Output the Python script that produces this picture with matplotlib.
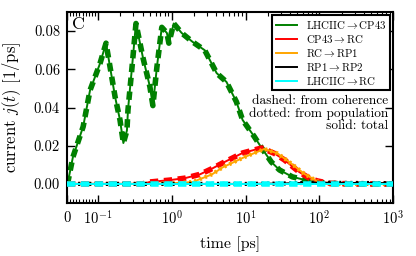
import matplotlib
matplotlib.use("Agg")
import matplotlib.pyplot as plt
import numpy as np
from matplotlib.ticker import FixedLocator

plt.rcParams['font.family'] = 'serif'
plt.rcParams['font.serif'] = ['cmr10']
plt.rcParams['mathtext.fontset'] = 'cm'
plt.rcParams['axes.formatter.use_mathtext'] = True
plt.rcParams['lines.scale_dashes'] = False

# LHCIIC -> CP43 (coherent part, population part ~0)
t_green = [0, 0.003, 0.019, 0.052, 0.074, 0.106, 0.128, 0.17, 0.198, 0.22, 0.246, 0.254,
           0.288, 0.326, 0.406, 0.503, 0.553, 0.626, 0.73, 0.857, 0.91, 1.06, 1.36, 1.92,
           2.79, 4.05, 5.5, 7.5, 9.1, 13.2, 16.5, 22.3, 28.8, 43, 73, 136, 300, 1000]
j_green = [0, 0.001, 0.014, 0.030, 0.049, 0.063, 0.0737, 0.0455, 0.0335, 0.0214, 0.028, 0.0387,
           0.061, 0.084, 0.066, 0.051, 0.041, 0.061, 0.082, 0.079, 0.0737, 0.084, 0.079, 0.0743,
           0.070, 0.058, 0.0534, 0.043, 0.0335, 0.0246, 0.0188, 0.0115, 0.0073, 0.0037, 0.0015, 0.0002, 0, 0]

# CP43 -> RC
t_red = [0, 0.4, 0.5, 0.94, 1.5, 2.4, 3.5, 4.9, 9.1, 16.5, 24.5, 33.5, 53, 73, 93, 136, 300, 1000]
j_red = [0, 0, 0.001, 0.002, 0.003, 0.005, 0.008, 0.011, 0.0162, 0.0188, 0.016, 0.0126, 0.0063,
         0.003, 0.0016, 0.0003, 0, 0]

# RC -> RP1
t_orange = [0, 0.5, 1.0, 1.92, 2.4, 3.5, 4.9, 9.6, 18, 27, 39, 63, 100, 160, 1000]
j_orange = [0, 0, 0.0003, 0.001, 0.0025, 0.005, 0.0087, 0.014, 0.0183, 0.016, 0.0115, 0.0052,
            0.0008, 0, 0]

# RP1 -> RP2
t_black = [0, 10, 30, 60, 100, 300, 1000]
j_black = [0, 0, 0.0002, 0.0005, 0.0006, 0.0005, 0.0004]

# LHCIIC -> RC
t_cyan = [0, 1000]
j_cyan = [0, 0]

labels = ['LHCIIC$\\rightarrow$CP43', 'CP43$\\rightarrow$RC', 'RC$\\rightarrow$RP1',
          'RP1$\\rightarrow$RP2', 'LHCIIC$\\rightarrow$RC']

fig = plt.figure(figsize=(4.16, 2.56), dpi=100)
ax = fig.add_axes([0.161, 0.207, 0.784, 0.746])

series = [(t_green, j_green, 'green', 'coh'),
          (t_red, j_red, 'red', 'coh'),
          (t_orange, j_orange, 'orange', 'pop'),
          (t_black, j_black, 'black', 'pop'),
          (t_cyan, j_cyan, 'cyan', 'coh')]

handles = []
for k, (t, j, c, part) in enumerate(series):
    h, = ax.plot(t, j, '-', color=c, lw=1.4, zorder=2 + k)
    handles.append(h)
    if part == 'coh':
        ax.plot(t, j, color=c, lw=4, dashes=(6, 4), zorder=2 + k)
    else:
        ax.plot(t, j, color=c, lw=3, dashes=(1.5, 2.5), zorder=2 + k)

ax.set_xscale('symlog', linthresh=0.1, linscale=0.38)
ax.set_xlim(0, 1000)
ax.set_ylim(-0.01, 0.09)
ax.set_yticks([0, 0.02, 0.04, 0.06, 0.08])
ax.set_yticklabels(['0.00', '0.02', '0.04', '0.06', '0.08'])
minor = [0.01 * i for i in range(1, 10)]
for d in [0.1, 1, 10, 100]:
    minor += [d * i for i in range(2, 10)]
ax.xaxis.set_minor_locator(FixedLocator(minor))

for s in ax.spines.values():
    s.set_linewidth(1.5)
ax.tick_params(which='both', direction='in', top=True, right=True, labelsize=10.5)
ax.tick_params(which='major', length=6, width=1, pad=5)
ax.tick_params(which='minor', length=3, width=0.8)

ax.set_xlabel('time [ps]', fontsize=11.5, labelpad=6)
ax.set_ylabel('current $j(t)$ [1/ps]', fontsize=12, labelpad=8)

ax.text(0.015, 0.975, 'C', transform=ax.transAxes, fontsize=13, va='top', ha='left')
ax.text(0.985, 0.565, 'dashed: from coherence\ndotted: from population\nsolid: total',
        transform=ax.transAxes, fontsize=9.6, va='top', ha='right', multialignment='right',
        linespacing=1.0, zorder=1)

leg = ax.legend(handles, labels, loc='upper right', fontsize=7.8, frameon=True, fancybox=False,
                edgecolor='black', framealpha=1, borderaxespad=0.3, handlelength=2,
                labelspacing=0.2, borderpad=0.3)
leg.get_frame().set_linewidth(1.5)

fig.savefig('out.png', dpi=100)
